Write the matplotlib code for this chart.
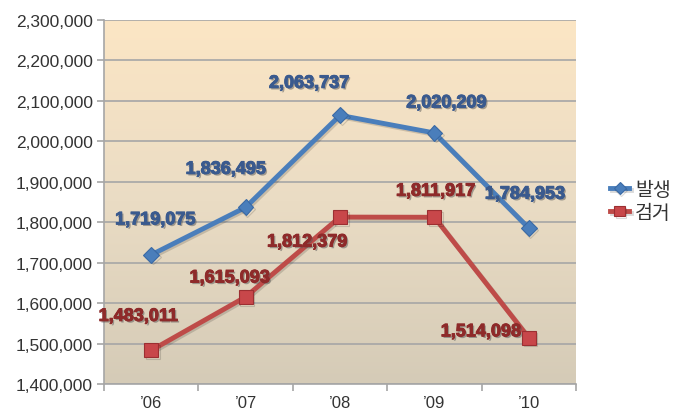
import numpy as np
import matplotlib
matplotlib.use("Agg")
import matplotlib.pyplot as plt
import matplotlib.patheffects as pe
from matplotlib.colors import LinearSegmentedColormap
from matplotlib.ticker import FuncFormatter

categories = ["’06", "’07", "’08", "’09", "’10"]
series_names = ["발생", "검거"]
occur = [1719075, 1836495, 2063737, 2020209, 1784953]
arrest = [1483011, 1615093, 1812379, 1811917, 1514098]

# label offsets in pixels (dx, dy)
occur_off = [(4, 35), (-20, 38), (-31, 32), (12, 30), (-4, 34)]
arrest_off = [(-13, 34), (-16, 19), (-33, -25), (1, 26), (-48, 6)]

plt.rcParams['font.family'] = ['Liberation Sans', 'Noto Sans CJK KR', 'DejaVu Sans']

fig = plt.figure(figsize=(6.76, 4.14), dpi=100)
ax = fig.add_axes([104/676, 1-385/414, (576-104)/676, (385-20.7)/414])

x = np.arange(len(categories))
ax.set_xlim(-0.5, len(categories)-0.5)
ax.set_ylim(1400000, 2300000)

# gradient background
cmap = LinearSegmentedColormap.from_list("bg", ["#d5cbb7", "#eadcc4", "#fce6c5"])
grad = np.linspace(0, 1, 256).reshape(-1, 1)
ax.imshow(grad, cmap=cmap, aspect='auto', origin='lower',
          extent=[-0.5, len(categories)-0.5, 1400000, 2300000], zorder=0)

ax.set_yticks(np.arange(1400000, 2300001, 100000))
ax.yaxis.set_major_formatter(FuncFormatter(lambda v, p: f"{int(v):,}"))
ax.grid(axis='y', color='#a6a6a6', linewidth=1.2, zorder=1)
ax.set_axisbelow(False)

ax.set_xticks(x)
ax.set_xticklabels(categories)
ax.set_xticks(np.arange(-0.5, len(categories), 1), minor=True)
ax.tick_params(axis='x', which='major', length=0, pad=8, labelsize=12, colors='#333333')
ax.tick_params(axis='x', which='minor', length=5, color='#a6a6a6', width=1.2)
ax.tick_params(axis='y', length=5, color='#a6a6a6', width=1.2, labelsize=12.5,
               labelcolor='#333333', pad=3)

for s in ['top', 'right']:
    ax.spines[s].set_visible(False)
for s in ['left', 'bottom']:
    ax.spines[s].set_color('#a6a6a6')
    ax.spines[s].set_linewidth(1.2)

blue = '#4a7ebb'
red = '#be4b48'
shadow = [pe.SimpleLineShadow(offset=(1.2, -1.2), shadow_color='k', alpha=0.15), pe.Normal()]
ax.plot(x, occur, color=blue, linewidth=3.5, marker='D', markersize=8,
        markerfacecolor=blue, markeredgecolor='#3a6aa5', markeredgewidth=0.8,
        label=series_names[0], zorder=3, path_effects=shadow)
ax.plot(x, arrest, color=red, linewidth=3.5, marker='s', markersize=10,
        markerfacecolor='#c8474a', markeredgecolor='#9c2f32', markeredgewidth=0.8,
        label=series_names[1], zorder=3, path_effects=shadow)

def txt_fx(col):
    return [pe.withSimplePatchShadow(offset=(1.2, -1.2), shadow_rgbFace='#555555', alpha=0.5),
            pe.withStroke(linewidth=0.7, foreground=col)]

for xi, v, (dx, dy) in zip(x, occur, occur_off):
    ax.annotate(f"{v:,}", (xi, v), xytext=(dx, dy), textcoords='offset pixels',
                ha='center', va='center', fontsize=13, fontweight='bold',
                color='#3a5a8e', path_effects=txt_fx('#3a5a8e'), zorder=5,
                annotation_clip=False)
for xi, v, (dx, dy) in zip(x, arrest, arrest_off):
    ax.annotate(f"{v:,}", (xi, v), xytext=(dx, dy), textcoords='offset pixels',
                ha='center', va='center', fontsize=13, fontweight='bold',
                color='#8e2a2a', path_effects=txt_fx('#8e2a2a'), zorder=5,
                annotation_clip=False)

leg = fig.legend(loc='center left', bbox_to_anchor=(606/676, 1-202/414),
                 frameon=False, handlelength=1.0, handletextpad=0.3,
                 markerscale=0.75, borderaxespad=0, borderpad=0.2,
                 labelspacing=0.1, prop={'family': ['Noto Sans CJK KR'], 'size': 14})
for t in leg.get_texts():
    t.set_color('#333333')

fig.savefig("out.png", dpi=100)
